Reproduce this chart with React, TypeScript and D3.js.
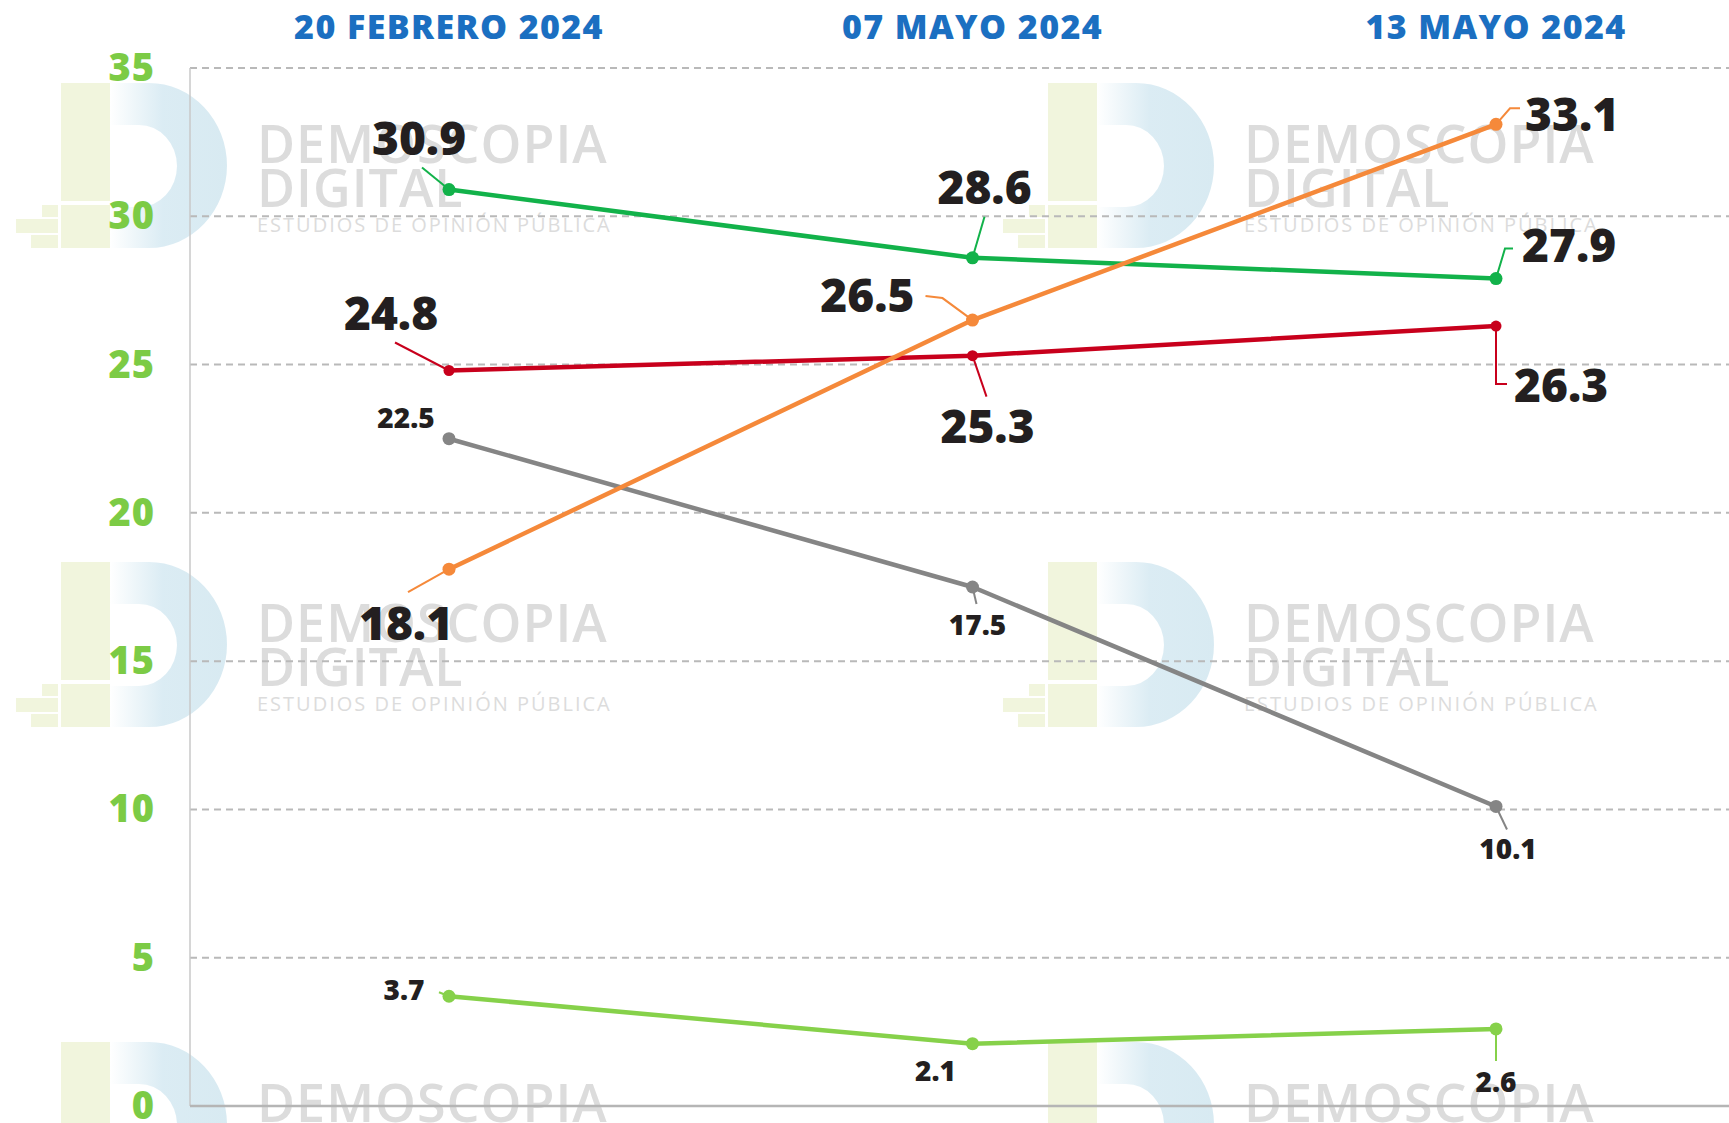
import React from "react";
import * as d3 from "d3";

const W = 1729;
const H = 1123;

const dates = ["20 FEBRERO 2024", "07 MAYO 2024", "13 MAYO 2024"];
const yTicks = [0, 5, 10, 15, 20, 25, 30, 35];

const greenDark = [30.9, 28.6, 27.9];
const orange = [18.1, 26.5, 33.1];
const red = [24.8, 25.3, 26.3];
const gray = [22.5, 17.5, 10.1];
const greenLight = [3.7, 2.1, 2.6];

const seriesList = [
  { key: "gray", values: gray, color: "#858585", big: false },
  { key: "greenLight", values: greenLight, color: "#86d14a", big: false },
  { key: "red", values: red, color: "#c8001c", big: true },
  { key: "greenDark", values: greenDark, color: "#12b24a", big: true },
  { key: "orange", values: orange, color: "#f5893a", big: true },
];

// label placement relative to each point: [dx, dy, anchor, leader points]
type LP = { dx: number; dy: number; anchor: string; leader: number[][] };
const labelLayout: Record<string, LP[]> = {
  greenDark: [
    { dx: -30, dy: -35, anchor: "middle", leader: [[0, 0], [-27, -22]] },
    { dx: 12, dy: -54, anchor: "middle", leader: [[0, 0], [12, -41]] },
    { dx: 26, dy: -17, anchor: "start", leader: [[0, 0], [9, -30], [17, -30]] },
  ],
  orange: [
    { dx: -43, dy: 71, anchor: "middle", leader: [[0, 0], [-41, 23]] },
    { dx: -58, dy: -8, anchor: "end", leader: [[0, 0], [-30, -22], [-47, -24]] },
    { dx: 29, dy: 7, anchor: "start", leader: [[0, 0], [14, -16], [24, -16]] },
  ],
  red: [
    { dx: -58, dy: -41, anchor: "middle", leader: [[0, 0], [-54, -28]] },
    { dx: 15, dy: 87, anchor: "middle", leader: [[0, 0], [14, 41]] },
    { dx: 18, dy: 76, anchor: "start", leader: [[0, 0], [0, 58], [11, 58]] },
  ],
  gray: [
    { dx: -43, dy: -11, anchor: "middle", leader: [] },
    { dx: 5, dy: 48, anchor: "middle", leader: [[0, 0], [4, 17]] },
    { dx: 12, dy: 53, anchor: "middle", leader: [[0, 0], [11, 23]] },
  ],
  greenLight: [
    { dx: -45, dy: 4, anchor: "middle", leader: [[0, 0], [-10, -4]] },
    { dx: -37, dy: 37, anchor: "middle", leader: [] },
    { dx: 0, dy: 63, anchor: "middle", leader: [[0, 0], [0, 32]] },
  ],
};

const watermarkOrigins = [
  [61, 83],
  [1048, 83],
  [61, 562],
  [1048, 562],
  [61, 1042],
  [1048, 1042],
];

const FONT = "'Open Sans', 'DejaVu Sans', sans-serif";

function Watermark({ x, y, id }: { x: number; y: number; id: string }) {
  return (
    <g transform={`translate(${x},${y})`}>
      <defs>
        <linearGradient id={id} x1="0" x2="1" y1="0" y2="0">
          <stop offset="0" stopColor="#ffffff" />
          <stop offset="0.45" stopColor="#d9ebf3" />
          <stop offset="1" stopColor="#d6e9f1" />
        </linearGradient>
      </defs>
      <rect x={0} y={0} width={49} height={118} fill="#f1f5dd" />
      <rect x={0} y={122} width={49} height={43} fill="#f1f5dd" />
      <rect x={-19} y={122} width={16} height={12} fill="#f1f5dd" />
      <rect x={-45} y={136} width={42} height={14} fill="#f1f5dd" />
      <rect x={-30} y={152} width={27} height={13} fill="#f1f5dd" />
      <path
        d="M49,0 L88,0 A78,82.5 0 0 1 88,165 L49,165 Z M49,42 L49,124 L78,124 A38,41 0 0 0 78,42 Z"
        fill={`url(#${id})`}
        fillRule="evenodd"
        opacity={0.95}
      />
      <g fill="#dcdcdc" fontFamily={FONT}>
        <text x={196} y={80} fontSize={52} fontWeight={600} letterSpacing={1}>
          DEMOSCOPIA
        </text>
        <text x={196} y={124} fontSize={52} fontWeight={600} letterSpacing={1}>
          DIGITAL
        </text>
        <text x={196} y={149} fontSize={20} fontWeight={500} letterSpacing={2}>
          ESTUDIOS DE OPINIÓN PÚBLICA
        </text>
      </g>
    </g>
  );
}

export default function App() {
  React.useEffect(() => {
    document.body.style.margin = "0";
  }, []);

  const left = 190;
  const x = d3.scalePoint<string>().domain(dates).range([449, 1496]).padding(0);
  const y = d3.scaleLinear().domain([0, 35]).range([1106, 68]);

  const line = d3
    .line<number>()
    .x((_, i) => x(dates[i]) as number)
    .y((d) => y(d));

  return (
    <svg
      width={W}
      height={H}
      viewBox={`0 0 ${W} ${H}`}
      style={{ position: "absolute", left: 0, top: 0, background: "#fff" }}
    >
      <rect x={0} y={0} width={W} height={H} fill="#fff" />
      {watermarkOrigins.map(([wx, wy], i) => (
        <Watermark key={i} x={wx} y={wy} id={`wmg${i}`} />
      ))}

      {/* gridlines */}
      {yTicks
        .filter((t) => t > 0)
        .map((t) => (
          <line
            key={t}
            x1={left}
            x2={W}
            y1={y(t)}
            y2={y(t)}
            stroke="#b9b9b9"
            strokeWidth={2}
            strokeDasharray="7 5"
          />
        ))}
      <line x1={left} x2={left} y1={y(35)} y2={y(0)} stroke="#c8c8c8" strokeWidth={1.5} />
      <line x1={left} x2={W} y1={y(0)} y2={y(0)} stroke="#b5b5b5" strokeWidth={2.5} />

      {/* y tick labels */}
      {yTicks.map((t) => (
        <text
          key={t}
          x={155}
          y={y(t) + 13}
          textAnchor="end"
          fontFamily={FONT}
          fontWeight={800}
          fontSize={38}
          fill="#7ccb45"
          letterSpacing={1}
        >
          {t}
        </text>
      ))}

      {/* headers */}
      {dates.map((d) => (
        <text
          key={d}
          x={x(d) as number}
          y={39}
          textAnchor="middle"
          fontFamily={FONT}
          fontWeight={800}
          fontSize={34}
          fill="#1b6fc1"
          letterSpacing={1.4}
        >
          {d}
        </text>
      ))}

      {/* lines */}
      {seriesList.map((s) => (
        <path
          key={s.key}
          d={line(s.values) as string}
          fill="none"
          stroke={s.color}
          strokeWidth={4.5}
          strokeLinejoin="round"
          strokeLinecap="round"
        />
      ))}

      {/* leaders, dots, labels */}
      {seriesList.map((s) => (
        <g key={s.key + "-lab"}>
          {s.values.map((v, i) => {
            const px = x(dates[i]) as number;
            const py = y(v);
            const lp = labelLayout[s.key][i];
            const pts = lp.leader.map(([a, b]) => `${px + a},${py + b}`).join(" ");
            return (
              <g key={i}>
                {lp.leader.length > 0 && (
                  <polyline points={pts} fill="none" stroke={s.color} strokeWidth={2} />
                )}
                <circle cx={px} cy={py} r={s.key === "red" ? 5.5 : 6.5} fill={s.color} />
                <text
                  x={px + lp.dx}
                  y={py + lp.dy}
                  textAnchor={lp.anchor as any}
                  fontFamily={FONT}
                  fontWeight={800}
                  fontSize={s.big ? 46 : 28}
                  fill="#231f20"
                  letterSpacing={0}
                >
                  {v.toFixed(1)}
                </text>
              </g>
            );
          })}
        </g>
      ))}
    </svg>
  );
}
